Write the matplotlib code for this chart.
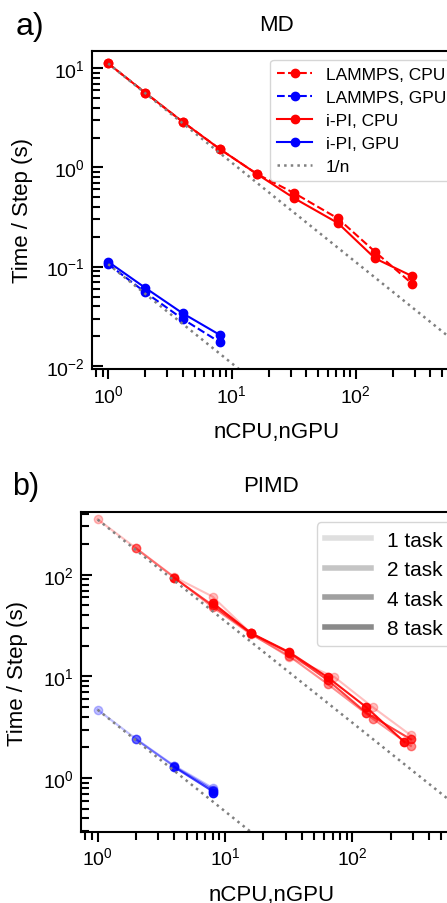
import numpy as np
import matplotlib
matplotlib.use('Agg')
import matplotlib.pyplot as plt
from matplotlib.lines import Line2D

plt.rcParams['font.family'] = ['Liberation Sans', 'DejaVu Sans']
plt.rcParams['mathtext.default'] = 'regular'

# MD timings (panel a)
md_cpu_n = [1, 2, 4, 8, 16, 32, 72, 144, 288]
md_lammps_cpu = [11.15, 5.64, 2.88, 1.53, 0.856, 0.55, 0.306, 0.141, 0.067]
md_ipi_cpu = [11.15, 5.64, 2.88, 1.53, 0.856, 0.488, 0.275, 0.121, 0.080]
md_gpu_n = [1, 2, 4, 8]
md_lammps_gpu = [0.106, 0.055, 0.0297, 0.0173]
md_ipi_gpu = [0.112, 0.061, 0.0339, 0.0205]

# PIMD timings (panel b), one series per number of tasks
task_labels = ['1 task', '2 task', '4 task', '8 task']
task_alpha = [0.25, 0.45, 0.75, 0.92]
pimd_cpu_n = [
    [1, 2, 4, 8, 16, 32, 72, 144, 288],
    [2, 4, 8, 16, 32, 64, 144, 288],
    [4, 8, 16, 32, 64, 128, 288],
    [8, 16, 32, 64, 128, 256],
]
pimd_cpu_t = [
    [352, 183, 95, 61, 26.5, 15.4, 9.9, 5.0, 2.63],
    [182, 94, 48, 26, 15.8, 8.4, 3.85, 2.07],
    [93, 50, 26.5, 17.0, 9.2, 4.4, 2.4],
    [53, 26.7, 17.3, 9.8, 5.0, 2.26],
]
pimd_gpu_n = [
    [1, 2, 4, 8],
    [2, 4, 8],
    [4, 8],
    [8],
]
pimd_gpu_t = [
    [4.7, 2.43, 1.32, 0.80],
    [2.40, 1.30, 0.77],
    [1.28, 0.74],
    [0.71],
]

nref = np.array([1, 1000])

fig = plt.figure(figsize=(4.47, 9.04), dpi=100)

def style_axes(ax, xlim, ylim, xpad):
    ax.set_xscale('log')
    ax.set_yscale('log')
    ax.set_xlim(*xlim)
    ax.set_ylim(*ylim)
    for s in ax.spines.values():
        s.set_linewidth(1.5)
    ax.tick_params(axis='x', which='major', direction='out', length=7.5, width=1.5, labelsize=14, pad=xpad)
    ax.tick_params(axis='x', which='minor', direction='out', length=6, width=1.5)
    ax.tick_params(axis='y', which='major', direction='in', length=8, width=1.5, labelsize=14, pad=5)
    ax.tick_params(axis='y', which='minor', direction='in', length=5.5, width=1.5)

# a) MD
ax1 = fig.add_axes([0.2058, 0.5907, 0.8277, 0.3518])
ax1.plot(md_cpu_n, md_lammps_cpu, '--o', color='red', lw=1.5, ms=6, label='LAMMPS, CPU')
ax1.plot(md_gpu_n, md_lammps_gpu, '--o', color='blue', lw=1.5, ms=6, label='LAMMPS, GPU')
ax1.plot(md_cpu_n, md_ipi_cpu, '-o', color='red', lw=1.5, ms=6, label='i-PI, CPU')
ax1.plot(md_gpu_n, md_ipi_gpu, '-o', color='blue', lw=1.5, ms=6, label='i-PI, GPU')
ax1.plot(nref, md_lammps_cpu[0] / nref, ':', color='gray', lw=1.8, label='1/n')
ax1.plot(nref, md_lammps_gpu[0] / nref, ':', color='gray', lw=1.8)
style_axes(ax1, (0.74, 725), (0.0093, 14.9), 3.5)
ax1.legend(loc='upper right', fontsize=12.5, labelspacing=0.45)
ax1.set_title('MD', fontsize=16, pad=15)
ax1.set_xlabel('nCPU,nGPU', fontsize=16)
ax1.set_ylabel('Time / Step (s)', fontsize=16)
ax1.xaxis.set_label_coords(0.5, -0.163)
ax1.yaxis.set_label_coords(-0.16, 0.5)
fig.text(0.036, 0.961, 'a)', fontsize=23, va='baseline')

# b) PIMD
ax2 = fig.add_axes([0.1812, 0.0785, 0.8523, 0.354])
for i in range(4):
    ax2.plot(pimd_cpu_n[i], pimd_cpu_t[i], '-o', color='red', alpha=task_alpha[i], lw=1.5, ms=6)
    ax2.plot(pimd_gpu_n[i], pimd_gpu_t[i], '-o', color='blue', alpha=task_alpha[i], lw=1.5, ms=6)
ax2.plot(nref, 350 / nref, ':', color='gray', lw=1.8)
ax2.plot(nref, pimd_gpu_t[0][0] / nref, ':', color='gray', lw=1.8)
style_axes(ax2, (0.74, 725), (0.294, 415), 3)
handles = [Line2D([], [], color='gray', lw=4, alpha=a) for a in task_alpha]
ax2.legend(handles, task_labels, loc='upper right', fontsize=15, handlelength=2.2)
ax2.set_title('PIMD', fontsize=16, pad=15)
ax2.set_xlabel('nCPU,nGPU', fontsize=16)
ax2.set_ylabel('Time / Step (s)', fontsize=16)
ax2.xaxis.set_label_coords(0.5, -0.1625)
ax2.yaxis.set_label_coords(-0.14, 0.5)
fig.text(0.027, 0.452, 'b)', fontsize=22, va='baseline')

fig.savefig('out.png', dpi=100)
